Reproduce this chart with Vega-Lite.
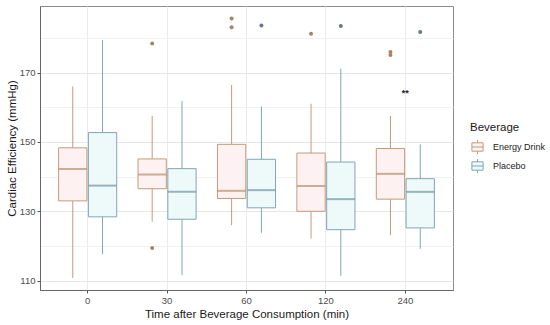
{
  "$schema": "https://vega.github.io/schema/vega-lite/v6.json",
  "width": 413,
  "height": 284,
  "autosize": "none",
  "padding": {"left": 40, "top": 6, "right": 97, "bottom": 35},
  "background": "white",
  "config": {
    "font": "Liberation Sans",
    "view": {"stroke": "#8c8c8c", "strokeWidth": 1},
    "axis": {
      "labelFont": "Liberation Sans",
      "labelFontSize": 9.5,
      "labelColor": "#4d4d4d",
      "titleFont": "Liberation Sans",
      "titleFontSize": 11.5,
      "titleFontWeight": "normal",
      "titleColor": "#1a1a1a",
      "tickColor": "#555555",
      "tickSize": 3,
      "labelPadding": 2,
      "domainColor": "#666666",
      "gridColor": "#EBEBEB"
    },
    "legend": {
      "titleFont": "Liberation Sans",
      "titleFontSize": 11.5,
      "titleFontWeight": "normal",
      "titleColor": "#1a1a1a",
      "labelFont": "Liberation Sans",
      "labelFontSize": 9,
      "labelColor": "#1a1a1a",
      "symbolType": "M-0.8,-0.6H0.8V0.6H-0.8Z M-0.8,0H0.8 M0,-0.6V-1 M0,0.6V1",
      "symbolSize": 196,
      "symbolStrokeWidth": 1,
      "rowPadding": 0,
      "titlePadding": 6,
      "labelOffset": 8
    }
  },
  "datasets": {
    "boxes": [
      {"time": "0", "beverage": "Energy Drink", "lower": 110.8, "q1": 133.0, "median": 142.2, "q3": 148.3, "upper": 166.0},
      {"time": "0", "beverage": "Placebo", "lower": 117.6, "q1": 128.4, "median": 137.4, "q3": 152.7, "upper": 179.4},
      {"time": "30", "beverage": "Energy Drink", "lower": 127.0, "q1": 136.5, "median": 140.6, "q3": 145.1, "upper": 157.5},
      {"time": "30", "beverage": "Placebo", "lower": 111.6, "q1": 127.7, "median": 135.6, "q3": 142.3, "upper": 161.8},
      {"time": "60", "beverage": "Energy Drink", "lower": 126.0, "q1": 133.7, "median": 135.9, "q3": 149.3, "upper": 166.4},
      {"time": "60", "beverage": "Placebo", "lower": 123.8, "q1": 131.0, "median": 136.1, "q3": 145.0, "upper": 160.2},
      {"time": "120", "beverage": "Energy Drink", "lower": 122.1, "q1": 130.0, "median": 137.3, "q3": 146.8, "upper": 161.0},
      {"time": "120", "beverage": "Placebo", "lower": 111.4, "q1": 124.7, "median": 133.5, "q3": 144.2, "upper": 171.1},
      {"time": "240", "beverage": "Energy Drink", "lower": 123.1, "q1": 133.5, "median": 140.8, "q3": 148.1, "upper": 157.5},
      {"time": "240", "beverage": "Placebo", "lower": 119.2, "q1": 125.2, "median": 135.6, "q3": 139.4, "upper": 149.3}
    ],
    "outliers": [
      {"time": "30", "beverage": "Energy Drink", "value": 178.4},
      {"time": "30", "beverage": "Energy Drink", "value": 119.4},
      {"time": "60", "beverage": "Energy Drink", "value": 185.6},
      {"time": "60", "beverage": "Energy Drink", "value": 183.1},
      {"time": "60", "beverage": "Placebo", "value": 183.6},
      {"time": "120", "beverage": "Energy Drink", "value": 181.2},
      {"time": "120", "beverage": "Placebo", "value": 183.4},
      {"time": "240", "beverage": "Energy Drink", "value": 175.9},
      {"time": "240", "beverage": "Energy Drink", "value": 175.1},
      {"time": "240", "beverage": "Placebo", "value": 181.7}
    ],
    "annot": [
      {"time": "240", "value": 164.1, "label": "**"}
    ]
  },
  "layer": [
    {
      "data": {"name": "boxes"},
      "mark": {"type": "rule", "strokeWidth": 1},
      "encoding": {
        "x": {
          "field": "time", "type": "nominal", "sort": ["0", "30", "60", "120", "240"],
          "scale": {"paddingInner": 0.25, "paddingOuter": 0.225},
          "axis": {"title": "Time after Beverage Consumption (min)", "labelAngle": 0, "bandPosition": 0.5, "grid": true, "titlePadding": 4}
        },
        "xOffset": {"field": "beverage", "type": "nominal", "scale": {"paddingInner": 0.05, "paddingOuter": 0.025}},
        "y": {
          "field": "lower", "type": "quantitative", "title": "Cardiac Efficiency (mmHg)",
          "scale": {"domain": [107.3, 189.2], "nice": false, "zero": false},
          "axis": {
            "values": [110, 120, 130, 140, 150, 160, 170, 180],
            "labelExpr": "datum.value % 20 == 10 ? datum.label : ''",
            "tickOpacity": {"condition": {"test": "datum.value % 20 == 10", "value": 1}, "value": 0},
            "gridColor": {"condition": {"test": "datum.value % 20 == 10", "value": "#E6E6E6"}, "value": "#F2F2F2"},
            "titlePadding": 2
          }
        },
        "y2": {"field": "upper"},
        "stroke": {"field": "beverage", "type": "nominal", "scale": {"domain": ["Energy Drink", "Placebo"], "range": ["#C59A7D", "#7FA7B3"]}, "legend": {"title": "Beverage", "orient": "none", "legendX": 430, "legendY": 116}}
      }
    },
    {
      "data": {"name": "boxes"},
      "mark": {"type": "bar", "strokeWidth": 1},
      "encoding": {
        "x": {"field": "time", "type": "nominal", "sort": ["0", "30", "60", "120", "240"], "scale": {"paddingInner": 0.25, "paddingOuter": 0.225}},
        "xOffset": {"field": "beverage", "type": "nominal", "scale": {"paddingInner": 0.05, "paddingOuter": 0.025}},
        "y": {"field": "q1", "type": "quantitative", "title": "Cardiac Efficiency (mmHg)"},
        "y2": {"field": "q3"},
        "fill": {"field": "beverage", "type": "nominal", "scale": {"domain": ["Energy Drink", "Placebo"], "range": ["#FDF2F1", "#EEF9FA"]}, "legend": {"title": "Beverage", "orient": "none", "legendX": 430, "legendY": 116}},
        "stroke": {"field": "beverage", "type": "nominal", "legend": {"title": "Beverage", "orient": "none", "legendX": 430, "legendY": 116}}
      }
    },
    {
      "data": {"name": "boxes"},
      "mark": {"type": "tick", "thickness": 2, "size": 28.3},
      "encoding": {
        "x": {"field": "time", "type": "nominal", "sort": ["0", "30", "60", "120", "240"], "scale": {"paddingInner": 0.25, "paddingOuter": 0.225}},
        "xOffset": {"field": "beverage", "type": "nominal", "scale": {"paddingInner": 0.05, "paddingOuter": 0.025}},
        "y": {"field": "median", "type": "quantitative", "title": "Cardiac Efficiency (mmHg)"},
        "color": {"field": "beverage", "type": "nominal", "scale": {"domain": ["Energy Drink", "Placebo"], "range": ["#B88D6C", "#6F97A4"]}, "legend": null}
      }
    },
    {
      "data": {"name": "outliers"},
      "mark": {"type": "point", "filled": true, "size": 16, "opacity": 1},
      "encoding": {
        "x": {"field": "time", "type": "nominal", "sort": ["0", "30", "60", "120", "240"], "scale": {"paddingInner": 0.25, "paddingOuter": 0.225}},
        "xOffset": {"field": "beverage", "type": "nominal", "scale": {"paddingInner": 0.05, "paddingOuter": 0.025}},
        "y": {"field": "value", "type": "quantitative", "title": "Cardiac Efficiency (mmHg)"},
        "color": {"field": "beverage", "type": "nominal", "scale": {"domain": ["Energy Drink", "Placebo"], "range": ["#A58363", "#66788E"]}, "legend": null}
      }
    },
    {
      "data": {"name": "annot"},
      "mark": {"type": "text", "fontSize": 9, "fontWeight": "bold", "color": "#222222"},
      "encoding": {
        "x": {"field": "time", "type": "nominal", "sort": ["0", "30", "60", "120", "240"], "scale": {"paddingInner": 0.25, "paddingOuter": 0.225}},
        "y": {"field": "value", "type": "quantitative", "title": "Cardiac Efficiency (mmHg)"},
        "text": {"field": "label"}
      }
    }
  ],
  "resolve": {"scale": {"color": "independent"}}
}
